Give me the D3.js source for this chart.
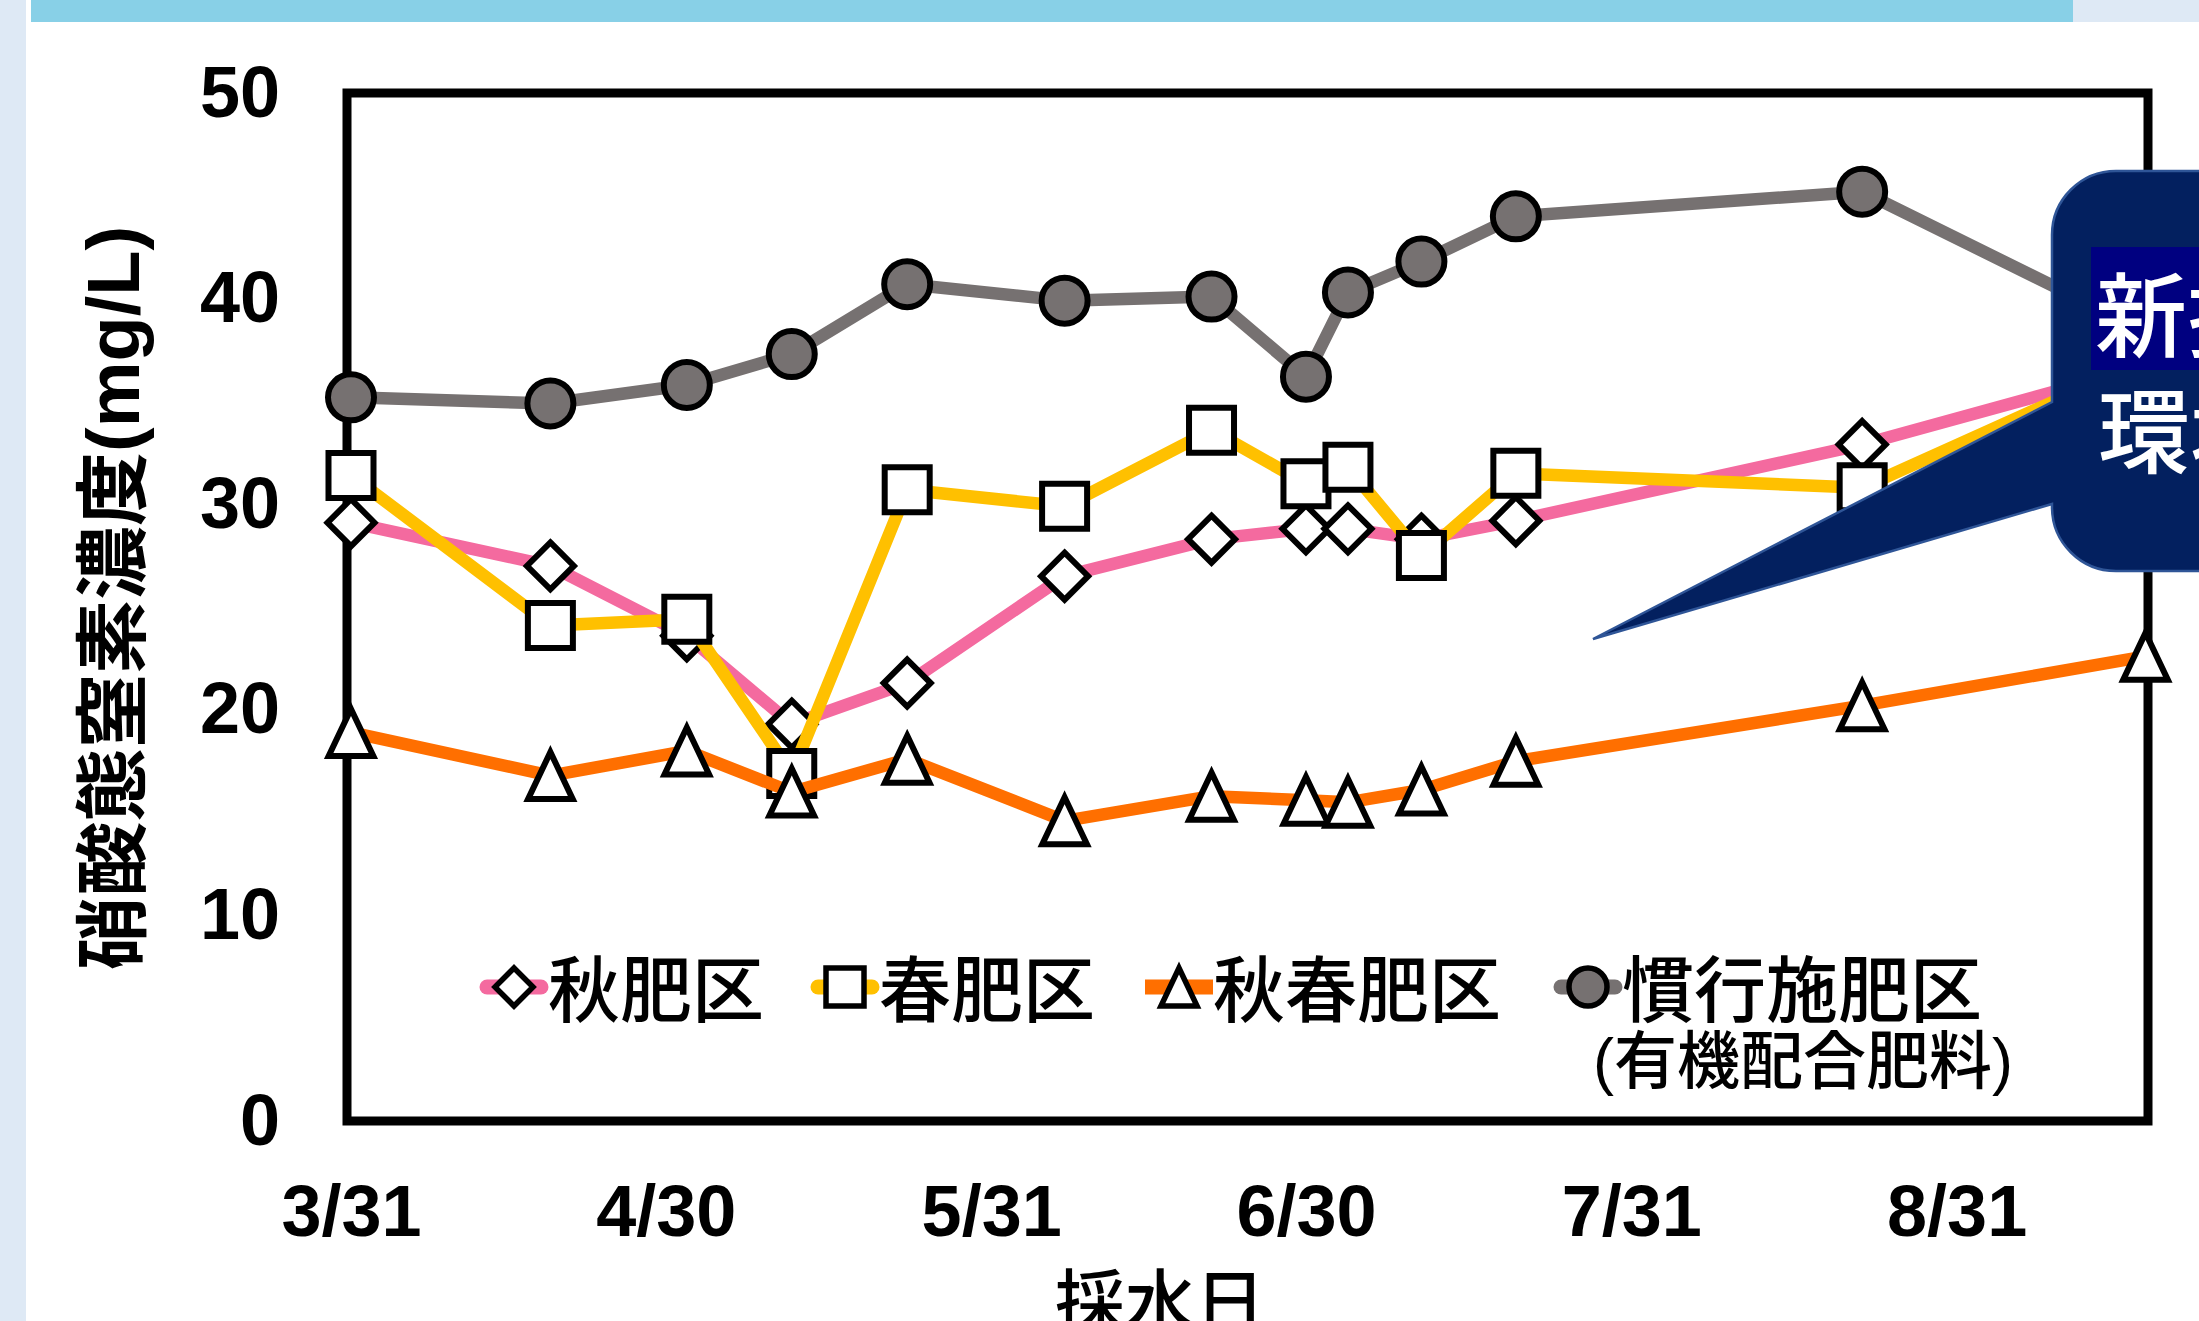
<!DOCTYPE html>
<html>
<head>
<meta charset="utf-8">
<script src="https://cdn.jsdelivr.net/npm/d3@7"></script>
<style>
body { margin: 0; background: #fff; }
svg { display: block; }
</style>
</head>
<body>
<div id="chart"></div>
<script>
// sampling dates and nitrate-N values (mg/L)
var dates = ['3/31', '4/19', '5/2', '5/12', '5/23', '6/7', '6/21', '6/30', '7/4', '7/11', '7/20', '8/22', '9/18'];
var akiValues = [29.1, 27.0, 23.6, 19.3, 21.3, 26.5, 28.3, 28.8, 28.8, 28.3, 29.2, 32.9, 36.7];
var haruValues = [31.4, 24.1, 24.4, 16.9, 30.7, 29.9, 33.6, 31.0, 31.8, 27.5, 31.5, 30.8, 37.0];
var akiharuValues = [18.9, 16.8, 18.0, 16.0, 17.6, 14.6, 15.8, 15.6, 15.5, 16.1, 17.5, 20.2, 22.6];
var kankouValues = [35.2, 34.9, 35.8, 37.3, 40.7, 39.9, 40.1, 36.2, 40.3, 41.8, 44.0, 45.2, 38.4];

var seriesNames = ['秋肥区', '春肥区', '秋春肥区', '慣行施肥区'];
var yTicks = [0, 10, 20, 30, 40, 50];
var xTickLabels = ['3/31', '4/30', '5/31', '6/30', '7/31', '8/31'];

var w = 2199,
    h = 1321;

var parse = function(s) {
  var p = s.split('/');
  return new Date(2021, +p[0] - 1, +p[1]);
};

var svg = d3.select('#chart')
            .append('svg')
            .attr('width', w)
            .attr('height', h);

// page background bits
svg.append('rect').attr('width', w).attr('height', h).attr('fill', '#fff');
svg.append('rect').attr('x', 0).attr('y', 0).attr('width', 26).attr('height', h).attr('fill', '#dee9f5');
svg.append('rect').attr('x', 2073).attr('y', 0).attr('width', 126).attr('height', 22).attr('fill', '#dee9f5');
svg.append('rect').attr('x', 31).attr('y', 0).attr('width', 2042).attr('height', 22).attr('fill', '#88d0e7');

var x = d3.scaleTime()
          .domain([parse('3/31'), parse('9/19')])
          .range([351, 2156]);
var y = d3.scaleLinear()
          .domain([0, 50])
          .range([1121, 93]);

var numFont = '"Liberation Sans", Arial, sans-serif';
var jpFont = '"Noto Sans CJK JP", sans-serif';

// plot frame
svg.append('rect')
    .attr('x', 347).attr('y', y(50))
    .attr('width', 2148 - 347).attr('height', y(0) - y(50))
    .attr('fill', 'none')
    .attr('stroke', '#000')
    .attr('stroke-width', 9);

// axes (labels only)
var yAxis = svg.append('g')
    .attr('transform', 'translate(347,0)')
    .call(d3.axisLeft(y).tickValues(yTicks).tickSize(0).tickPadding(67));
yAxis.select('.domain').remove();
yAxis.selectAll('text')
    .attr('font-family', numFont)
    .attr('font-weight', 'bold')
    .attr('font-size', 72)
    .attr('fill', '#000');

var xAxis = svg.append('g')
    .attr('transform', 'translate(0,' + y(0) + ')')
    .call(d3.axisBottom(x)
        .tickValues(xTickLabels.map(parse))
        .tickFormat(function(d, i) { return xTickLabels[i]; })
        .tickSize(0)
        .tickPadding(64));
xAxis.select('.domain').remove();
xAxis.selectAll('text')
    .attr('font-family', numFont)
    .attr('font-weight', 'bold')
    .attr('font-size', 72)
    .attr('fill', '#000');

// axis titles
svg.append('text')
    .attr('transform', 'translate(113,598) rotate(-90)')
    .attr('text-anchor', 'middle')
    .attr('dominant-baseline', 'central')
    .attr('font-family', numFont + ', ' + jpFont)
    .attr('font-weight', 'bold')
    .attr('font-size', 74)
    .text('硝酸態窒素濃度(mg/L)');

svg.append('text')
    .attr('x', 1160).attr('y', 1297)
    .attr('text-anchor', 'middle')
    .attr('dominant-baseline', 'central')
    .attr('font-family', jpFont)
    .attr('font-weight', 500)
    .attr('font-size', 70)
    .text('採水日');

// marker shapes, size = half extent
var shapes = {
  diamond: { draw: function(c, r) { c.moveTo(0, -r); c.lineTo(r, 0); c.lineTo(0, r); c.lineTo(-r, 0); c.closePath(); } },
  square: { draw: function(c, r) { c.rect(-r, -r, 2 * r, 2 * r); } },
  triangle: { draw: function(c, r) { c.moveTo(0, -r); c.lineTo(r * 0.95, r); c.lineTo(-r * 0.95, r); c.closePath(); } },
  circle: { draw: function(c, r) { c.moveTo(r, 0); c.arc(0, 0, r, 0, 2 * Math.PI); } }
};

var series = [
  { name: seriesNames[0], values: akiValues, color: '#f46a9f', shape: 'diamond', fill: '#fff', half: 23.5, cap: 'round' },
  { name: seriesNames[1], values: haruValues, color: '#ffc000', shape: 'square', fill: '#fff', half: 22.5, cap: 'round' },
  { name: seriesNames[2], values: akiharuValues, color: '#ff6f00', shape: 'triangle', fill: '#fff', half: 23.5, cap: 'butt' },
  { name: seriesNames[3], values: kankouValues, color: '#767171', shape: 'circle', fill: '#767171', half: 23, cap: 'round' }
];

var line = d3.line()
    .x(function(d) { return x(d.date); })
    .y(function(d) { return y(d.v); });

series.forEach(function(s) {
  var pts = dates.map(function(d, i) { return { date: parse(d), v: s.values[i] }; });
  var g = svg.append('g');
  g.append('path')
      .attr('d', line(pts))
      .attr('fill', 'none')
      .attr('stroke', s.color)
      .attr('stroke-width', 12.5)
      .attr('stroke-linejoin', 'round');
  g.selectAll('.m')
      .data(pts)
      .enter()
      .append('path')
      .attr('transform', function(d) { return 'translate(' + x(d.date) + ',' + y(d.v) + ')'; })
      .attr('d', d3.symbol().type(shapes[s.shape]).size(s.half))
      .attr('fill', s.fill)
      .attr('stroke', '#000')
      .attr('stroke-width', 6)
      .attr('stroke-linejoin', 'miter');
});

// legend
var legendX = [514, 845, 1179, 1588];
var legendY = 987;
series.forEach(function(s, i) {
  var g = svg.append('g').attr('transform', 'translate(' + legendX[i] + ',' + legendY + ')');
  g.append('line')
      .attr('x1', -27).attr('x2', 27)
      .attr('stroke', s.color)
      .attr('stroke-width', 15)
      .attr('stroke-linecap', s.cap === 'butt' ? 'butt' : 'round');
  if (s.cap === 'butt') {
    g.select('line').attr('x1', -34).attr('x2', 34);
  }
  g.append('path')
      .attr('d', d3.symbol().type(shapes[s.shape]).size(19))
      .attr('fill', s.fill)
      .attr('stroke', '#000')
      .attr('stroke-width', 5.5);
  g.append('text')
      .attr('x', 34)
      .attr('y', -3)
      .attr('dominant-baseline', 'central')
      .attr('font-family', jpFont)
      .attr('font-weight', 500)
      .attr('font-size', 72)
      .text(s.name);
});
svg.append('text')
    .attr('x', 1593).attr('y', 1061)
    .attr('dominant-baseline', 'central')
    .attr('font-family', numFont + ', ' + jpFont)
    .attr('font-weight', 500)
    .attr('font-size', 63)
    .text('(有機配合肥料)');

// callout balloon
var cx0 = 2052, cTop = 171, cBot = 571, cr = 64;
svg.append('path')
    .attr('d', 'M2260,' + cTop + ' L' + (cx0 + cr) + ',' + cTop +
               ' A' + cr + ',' + cr + ' 0 0 0 ' + cx0 + ',' + (cTop + cr) +
               ' L' + cx0 + ',402 L1593,639 L' + cx0 + ',504 L' + cx0 + ',' + (cBot - cr) +
               ' A' + cr + ',' + cr + ' 0 0 0 ' + (cx0 + cr) + ',' + cBot +
               ' L2260,' + cBot + ' Z')
    .attr('fill', '#03205f')
    .attr('stroke', '#2f5597')
    .attr('stroke-width', 2.5);
svg.append('rect')
    .attr('x', 2091).attr('y', 247)
    .attr('width', 200).attr('height', 123)
    .attr('fill', '#000080');
svg.append('text')
    .attr('x', 2095).attr('y', 309)
    .attr('dominant-baseline', 'central')
    .attr('font-family', jpFont)
    .attr('font-weight', 500)
    .attr('font-size', 92)
    .attr('fill', '#fff')
    .text('新技術');
svg.append('text')
    .attr('x', 2098).attr('y', 425)
    .attr('dominant-baseline', 'central')
    .attr('font-family', jpFont)
    .attr('font-weight', 500)
    .attr('font-size', 92)
    .attr('fill', '#fff')
    .text('環境');
</script>
</body>
</html>
